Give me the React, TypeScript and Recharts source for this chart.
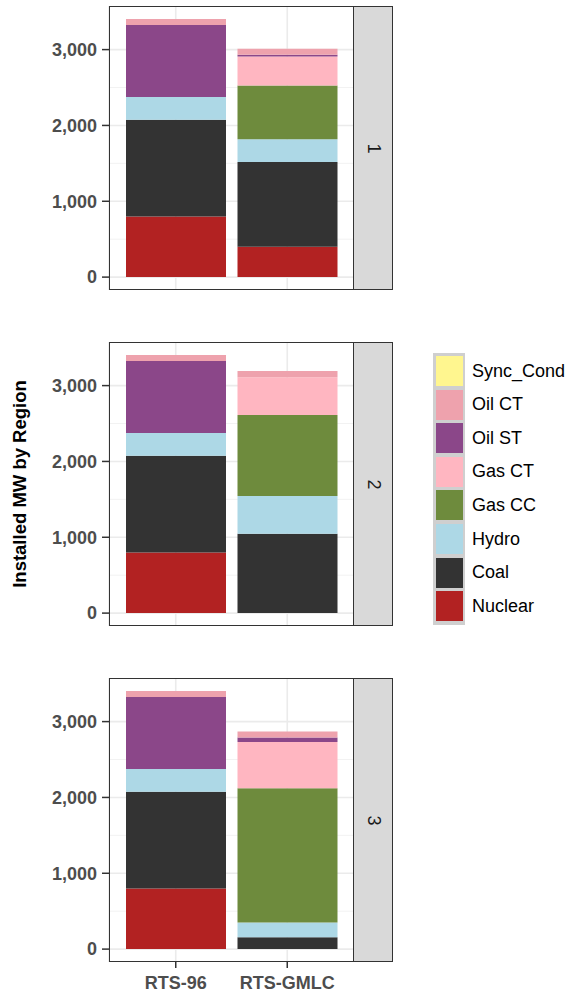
import { Bar, BarChart, CartesianGrid, XAxis, YAxis } from 'recharts';

const CATEGORIES = ['RTS-96', 'RTS-GMLC'];
const REGIONS = ['1', '2', '3'];
const FUELS = ['Nuclear', 'Coal', 'Hydro', 'Gas CC', 'Gas CT', 'Oil ST', 'Oil CT', 'Sync_Cond'];
const COLORS = ['#b22222', '#333333', '#add8e6', '#6e8b3d', '#ffb6c1', '#8b4789', '#eea2ad', '#fff68f'];

// installed MW per fuel (same order as FUELS), one array per region
const RTS96_R1 = [800, 1274, 300, 0, 0, 951, 80, 0];
const RTS96_R2 = [800, 1274, 300, 0, 0, 951, 80, 0];
const RTS96_R3 = [800, 1274, 300, 0, 0, 951, 80, 0];
const GMLC_R1 = [400, 1118, 300, 710, 380, 24, 80, 0];
const GMLC_R2 = [0, 1045, 500, 1066, 500, 0, 80, 0];
const GMLC_R3 = [0, 155, 197, 1770, 610, 58, 78, 0];

const RTS96 = [RTS96_R1, RTS96_R2, RTS96_R3];
const GMLC = [GMLC_R1, GMLC_R2, GMLC_R3];

const Y_TICKS = [0, 1000, 2000, 3000];
const Y_MINOR = [500, 1500, 2500];

const PANEL_TOPS = [6, 342, 678];
const PANEL_H = 284;
const AXIS_H = 32;
const AXIS_TEXT = '#4d4d4d';
const FONT = '"Liberation Sans", Arial, sans-serif';

function Panel({ region, top, showX }: { region: number; top: number; showX: boolean }) {
  const data = CATEGORIES.map((c, i) => {
    const vals = i === 0 ? RTS96[region] : GMLC[region];
    return { name: c, ...Object.fromEntries(FUELS.map((f, j) => [f, vals[j]])) };
  });

  // every panel gets the same x axis; the upper ones are clipped just below the panel border
  return (
    <div
      style={{
        position: 'absolute', left: 0, top, width: 400,
        height: showX ? PANEL_H + AXIS_H : PANEL_H, overflow: 'hidden',
      }}
    >
      <BarChart width={354} height={PANEL_H + AXIS_H} data={data} margin={{ top: 0, right: 0, bottom: 0, left: 0 }}>
        <CartesianGrid horizontalValues={Y_MINOR} vertical={false} stroke="#f2f2f2" strokeWidth={1} />
        <CartesianGrid horizontalValues={Y_TICKS} stroke="#ebebeb" strokeWidth={1.6} />
        <XAxis
          dataKey="name"
          interval={0}
          padding={{ left: 11, right: 11 }}
          height={AXIS_H}
          axisLine={false}
          tickSize={6}
          tickMargin={8}
          tickLine={{ stroke: '#333333', strokeWidth: 1.5 }}
          tick={{ fill: AXIS_TEXT, fontSize: 18, fontWeight: 'bold', fontFamily: FONT }}
        />
        <YAxis
          width={109}
          domain={[-170, 3575]}
          allowDataOverflow
          ticks={Y_TICKS}
          axisLine={false}
          tickSize={7}
          tickMargin={5}
          tickLine={{ stroke: '#333333', strokeWidth: 1.5 }}
          tick={{ fill: AXIS_TEXT, fontSize: 18, fontWeight: 'bold', fontFamily: FONT }}
          tickFormatter={(v: number) => v.toLocaleString('en-US')}
        />
        {FUELS.map((f, i) => (
          <Bar key={f} dataKey={f} stackId="mw" fill={COLORS[i]} barSize={100} isAnimationActive={false} />
        ))}
      </BarChart>
      <div
        style={{
          position: 'absolute', left: 109, top: 0, width: 245, height: PANEL_H,
          border: '1.5px solid #333333', boxSizing: 'border-box', pointerEvents: 'none',
        }}
      />
      <div
        style={{
          position: 'absolute', left: 353, top: 0, width: 40, height: PANEL_H,
          background: '#d9d9d9', border: '1.5px solid #333333', boxSizing: 'border-box',
          display: 'flex', alignItems: 'center', justifyContent: 'center',
        }}
      >
        <span style={{ transform: 'rotate(90deg)', fontSize: 18, color: '#1a1a1a', fontFamily: FONT }}>
          {REGIONS[region]}
        </span>
      </div>
    </div>
  );
}

export default function App() {
  const legendItems = FUELS.map((f, i) => ({ name: f, color: COLORS[i] })).reverse();

  return (
    <div style={{ position: 'absolute', left: 0, top: 0, width: 567, height: 992, background: '#fff', fontFamily: FONT, overflow: 'hidden' }}>
      {REGIONS.map((r, i) => (
        <Panel key={r} region={i} top={PANEL_TOPS[i]} showX={i === REGIONS.length - 1} />
      ))}
      <div
        style={{
          position: 'absolute', left: 20, top: 484, transform: 'translate(-50%, -50%) rotate(-90deg)',
          whiteSpace: 'nowrap', fontSize: 18.5, fontWeight: 'bold', color: '#000',
        }}
      >
        Installed MW by Region
      </div>
      <div style={{ position: 'absolute', left: 433, top: 353 }}>
        <div style={{ position: 'absolute', left: 0, top: 0, width: 32, height: 272, background: '#cfcfcf' }} />
        {legendItems.map((it, i) => (
          <div key={it.name} style={{ position: 'absolute', left: 0, top: 3 + i * 33.6, height: 30, display: 'flex', alignItems: 'center' }}>
            <div style={{ width: 27.5, height: 30, marginLeft: 2.5, background: it.color }} />
            <span style={{ marginLeft: 9, fontSize: 18, color: '#000', whiteSpace: 'nowrap' }}>{it.name}</span>
          </div>
        ))}
      </div>
    </div>
  );
}
